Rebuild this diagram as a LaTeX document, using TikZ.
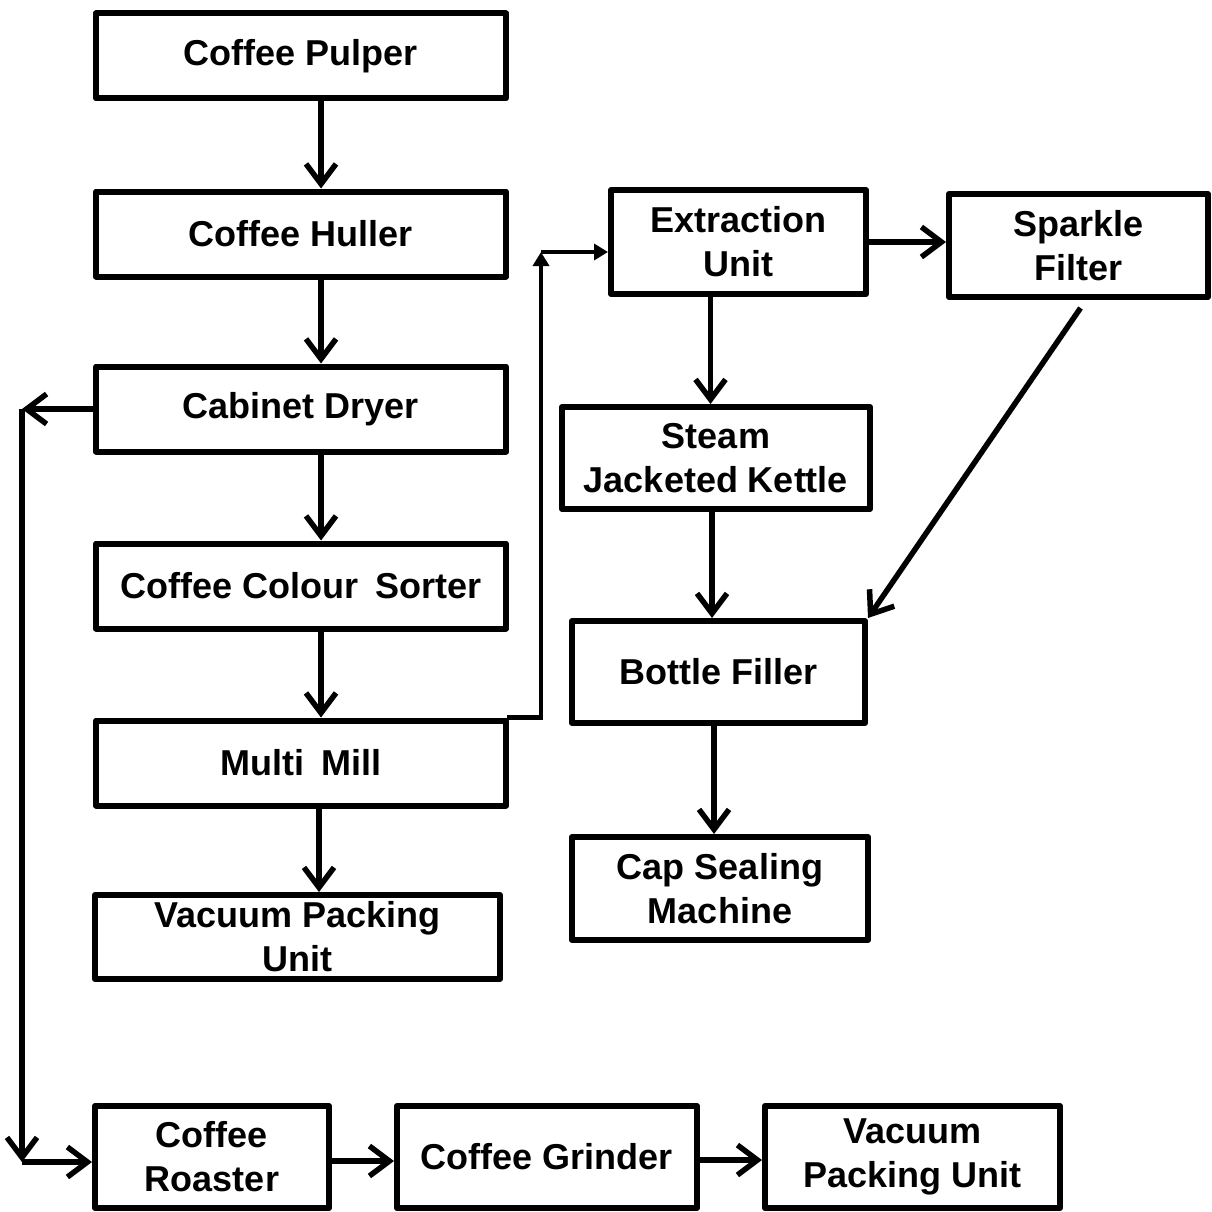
\documentclass[tikz,border=0pt]{standalone}
\usepackage{fontspec}
\setmainfont{Liberation Sans}
\usetikzlibrary{arrows.meta}
\tikzset{
    unit/.style={draw, line width=6pt, line join=round, align=center, inner sep=0pt,
        font=\bfseries\fontsize{36}{44}\selectfont},
    flow/.style={line width=5.5pt, -{Straight Barb[length=20pt,width=30pt]}},
    feed/.style={line width=4.5pt, -{Triangle[length=14pt,width=16pt]}}
}
\begin{document}
\begin{tikzpicture}[x=1pt,y=-1pt]
\useasboundingbox (0,0) rectangle (1211,1212);

% left column
\foreach \y/\n/\t in {56/pulper/Coffee Pulper, 234/huller/Coffee Huller, 409/dryer/Cabinet Dryer,
    586/sorter/Coffee Colour\hspace{.2em} Sorter, 763/mill/Multi\hspace{.2em} Mill}
{
    \node (\n) at (301,\y)[unit, minimum width=410pt, minimum height=85pt]{\t};
}
\node (vacA) at (297.5,937)[unit, minimum width=405pt, minimum height=84pt]{Vacuum Packing\\Unit};

% bottom row
\node (roaster) at (212,1157)[unit, minimum width=234pt, minimum height=102pt]{Coffee\\Roaster};
\node (grinder) at (547,1157)[unit, minimum width=300pt, minimum height=102pt]{Coffee Grinder};
\node (vacB) at (912.5,1157)[unit, minimum width=295pt, minimum height=102pt]{Vacuum\\Packing Unit};

% right part
\node (extract) at (738.5,242)[unit, minimum width=255pt, minimum height=104pt]{Extraction\\Unit};
\node (sparkle) at (1078.5,245.5)[unit, minimum width=259pt, minimum height=103pt]{Sparkle\\Filter};
\node (kettle) at (716,458)[unit, minimum width=308pt, minimum height=102pt]{Steam\\Jacketed Kettle};
\node (bottle) at (718.5,672)[unit, minimum width=293pt, minimum height=102pt]{Bottle Filler};
\node (capseal) at (720,888.5)[unit, minimum width=296pt, minimum height=103pt]{Cap Sealing\\Machine};

\foreach \a/\b in {pulper/huller, huller/dryer, dryer/sorter, sorter/mill}
{
    \draw[flow] ([xshift=20pt]\a.south) -- ([xshift=20pt]\b.north);
}
\draw[flow] ([xshift=18pt]mill.south) -- ([xshift=18pt]mill.south |- vacA.north);

% bypass to roaster
\coordinate (bustop) at (22,409);
\coordinate (busbot) at (22,1162);
\draw[flow] (dryer.west) -- (bustop);
\draw[flow] (bustop) -- (busbot);
\draw[flow] (busbot) -- (busbot -| roaster.west);
\draw[flow] ([yshift=-4pt]roaster.east) -- ([yshift=-4pt]grinder.west);
\draw[flow] ([yshift=-3pt]grinder.east) -- ([yshift=-3pt]vacB.west);

% mill to extraction
\coordinate (riser) at (541,252);
\draw[feed] ([xshift=-2pt]mill.north east) -| (riser);
\draw[feed] (riser) -- (riser -| extract.west);

\draw[flow] (extract.east) -- (extract.east -| sparkle.west);
\draw[flow] ([xshift=-28pt]extract.south) -- ([xshift=-28pt]extract.south |- kettle.north);
\draw[flow] ([xshift=-4pt]kettle.south) -- ([xshift=-4pt]kettle.south |- bottle.north);
\draw[flow] ([xshift=-4.5pt]bottle.south) -- ([xshift=-4.5pt]bottle.south |- capseal.north);
\draw[flow] ([xshift=2pt,yshift=-8pt]sparkle.south) -- (bottle.north east);
\end{tikzpicture}
\end{document}
